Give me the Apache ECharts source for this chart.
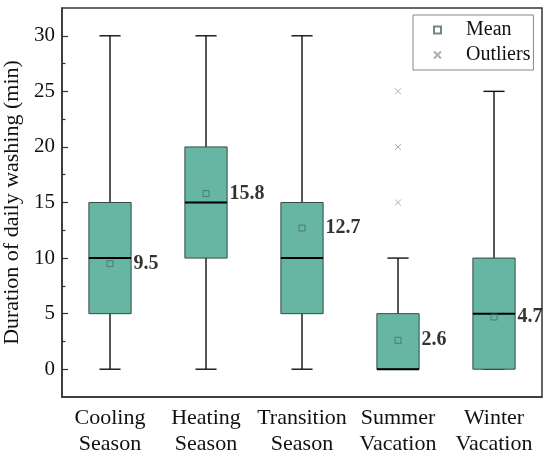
<!DOCTYPE html>
<html>
<head>
<meta charset="utf-8">
<script src="https://cdn.jsdelivr.net/npm/echarts@6/dist/echarts.min.js"></script>
<style>
  html, body { margin: 0; padding: 0; background: #fff; }
  #main { width: 550px; height: 457px; }
</style>
</head>
<body>
<div id="main"></div>
<script>
var categories = ['Cooling\nSeason', 'Heating\nSeason', 'Transition\nSeason', 'Summer\nVacation', 'Winter\nVacation'];
// min, Q1, median, Q3, max
var boxStats = [
    [0, 5, 10, 15, 30],
    [0, 10, 15, 20, 30],
    [0, 5, 10, 15, 30],
    [0, 0, 0, 5, 10],
    [0, 0, 5, 10, 25]
];
var means = [9.5, 15.8, 12.7, 2.6, 4.7];
var outliers = [[3, 15], [3, 20], [3, 25]];
var yTicks = [0, 5, 10, 15, 20, 25, 30];
var yMinorTicks = [2.5, 7.5, 12.5, 17.5, 22.5, 27.5];

var font = 'Liberation Serif';

var boxData = boxStats.map(function (s, i) {
    return [i].concat(s);
});
var meanData = means.map(function (m, i) {
    return [i, m];
});

var chart = echarts.init(document.getElementById('main'));
chart.setOption({
    animation: false,
    textStyle: { fontFamily: font },
    grid: {
        left: 62, right: 8, top: 8, bottom: 60,
        outerBoundsMode: 'none',
        containLabel: false,
        show: true, borderColor: '#333', borderWidth: 1.5
    },
    legend: {
        left: 413, top: 15,
        orient: 'vertical',
        borderColor: '#888', borderWidth: 1,
        padding: [5, 3, 5, 20],
        itemGap: 5,
        itemWidth: 7, itemHeight: 7,
        textStyle: { fontFamily: font, fontSize: 20, color: '#111', padding: [0, 0, 0, 20] },
        data: ['Mean', 'Outliers']
    },
    xAxis: {
        type: 'category',
        data: categories,
        axisLine: { onZero: false, lineStyle: { color: '#333', width: 1.5 } },
        axisTick: { inside: true, alignWithLabel: true, length: 6, lineStyle: { color: '#333', width: 1.2 } },
        axisLabel: { interval: 0, fontFamily: font, fontSize: 22, color: '#111', lineHeight: 26, margin: 8 }
    },
    yAxis: [{
        type: 'value',
        min: -2.5, max: 32.5, interval: 2.5,
        name: 'Duration of daily washing (min)',
        nameLocation: 'middle',
        nameGap: 31,
        nameTextStyle: { fontFamily: font, fontSize: 22, color: '#111' },
        splitLine: { show: false },
        axisLine: { show: true, lineStyle: { color: '#333', width: 1.5 } },
        axisTick: { show: true, inside: true, length: 6, customValues: yTicks, lineStyle: { color: '#333', width: 1.2 } },
        axisLabel: { fontFamily: font, fontSize: 21, color: '#111', margin: 7, customValues: yTicks }
    }, {
        type: 'value',
        position: 'left',
        min: -2.5, max: 32.5, interval: 2.5,
        splitLine: { show: false },
        axisLine: { show: false },
        axisTick: { show: true, inside: true, length: 3.5, customValues: yMinorTicks, lineStyle: { color: '#333', width: 1.2 } },
        axisLabel: { show: false }
    }],
    series: [{
        type: 'custom',
        name: 'Box',
        data: boxData,
        encode: { x: 0, y: [1, 2, 3, 4, 5] },
        renderItem: function (params, api) {
            var x = api.value(0);
            var lo = api.coord([x, api.value(1)]);
            var q1 = api.coord([x, api.value(2)]);
            var md = api.coord([x, api.value(3)]);
            var q3 = api.coord([x, api.value(4)]);
            var hi = api.coord([x, api.value(5)]);
            var band = api.size([1, 0])[0];
            var bw = band * 0.44;
            var cw = band * 0.22;
            var cx = lo[0];
            var lineStyle = { stroke: '#111', lineWidth: 1.4 };
            return {
                type: 'group',
                children: [
                    { type: 'line', shape: { x1: cx, y1: q3[1], x2: cx, y2: hi[1] }, style: lineStyle },
                    { type: 'line', shape: { x1: cx, y1: lo[1], x2: cx, y2: q1[1] }, style: lineStyle },
                    { type: 'line', shape: { x1: cx - cw / 2, y1: hi[1], x2: cx + cw / 2, y2: hi[1] }, style: lineStyle },
                    { type: 'line', shape: { x1: cx - cw / 2, y1: lo[1], x2: cx + cw / 2, y2: lo[1] }, style: lineStyle },
                    {
                        type: 'rect',
                        shape: { x: cx - bw / 2, y: q3[1], width: bw, height: q1[1] - q3[1] },
                        style: { fill: '#66b6a3', stroke: '#3d4a46', lineWidth: 1 }
                    },
                    { type: 'line', shape: { x1: cx - bw / 2, y1: md[1], x2: cx + bw / 2, y2: md[1] }, style: { stroke: '#000', lineWidth: 2 } }
                ]
            };
        },
        z: 2
    }, {
        type: 'scatter',
        name: 'Mean',
        data: meanData,
        symbol: 'rect',
        symbolSize: 6,
        itemStyle: { color: 'rgba(0,0,0,0)', borderColor: '#4f6a63', borderWidth: 1 },
        label: {
            show: true,
            position: 'right',
            distance: 20,
            fontFamily: font,
            fontSize: 20,
            fontWeight: 'bold',
            color: '#000',
            formatter: function (p) { return p.value[1].toFixed(1); }
        },
        z: 3
    }, {
        type: 'scatter',
        name: 'Outliers',
        data: outliers,
        symbol: 'path://M0,0L10,10M10,0L0,10',
        symbolSize: 6,
        itemStyle: { color: 'rgba(0,0,0,0)', borderColor: '#999', borderWidth: 1 },
        z: 3
    }]
});
</script>
</body>
</html>
